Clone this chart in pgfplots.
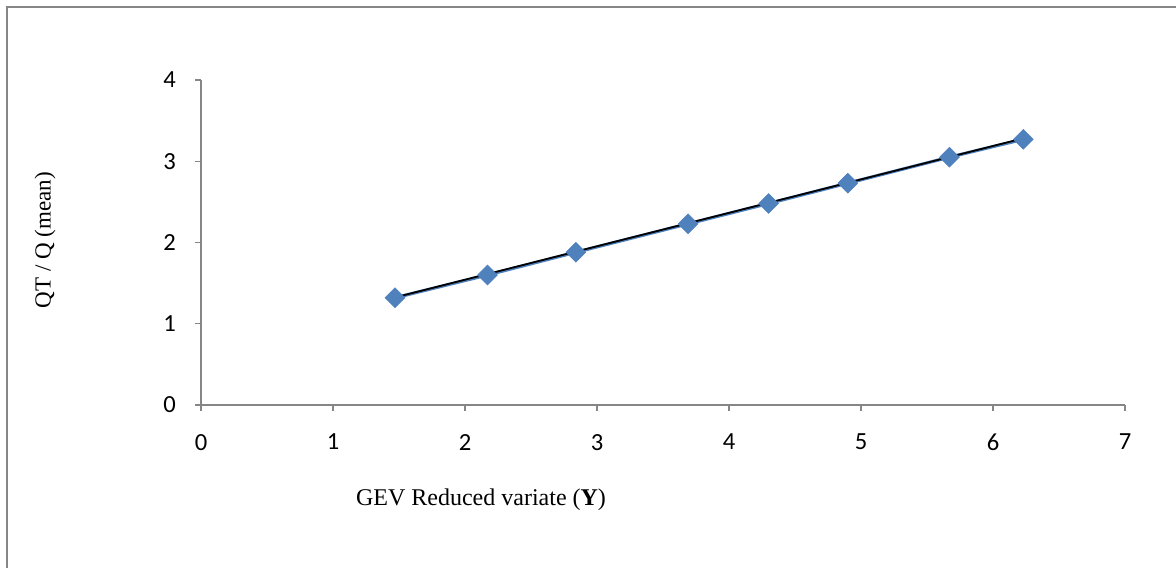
\documentclass[border=0pt]{standalone}
\usepackage{pgfplots}
\usepackage{pgfplotstable}
\usepackage{fontspec}
\pgfplotsset{compat=1.18}
\setmainfont{Liberation Serif}
\newfontfamily\calibri{Carlito}
\definecolor{axgray}{HTML}{868686}
\definecolor{exblue}{HTML}{4F81BD}
\pgfplotstableread{
x y
1.47 1.32
2.17 1.60
2.84 1.88
3.69 2.23
4.30 2.48
4.90 2.73
5.67 3.05
6.23 3.27
}\gev
\begin{document}
\begin{tikzpicture}[x=1pt,y=1pt]
\useasboundingbox (0,0) rectangle (588,283.5);
\draw[axgray, line width=1pt] (3.5,-2) -- (3.5,280) -- (590,280);
\begin{axis}[
  at={(100.5pt,81pt)}, anchor=origin,
  scale only axis, width=462pt, height=162.5pt,
  xmin=0, xmax=7, ymin=0, ymax=4,
  xtick={0,...,7}, ytick={0,...,4},
  axis x line*=bottom, axis y line*=left,
  axis line style={axgray, line width=0.6pt, -},
  tick style={axgray, line width=0.6pt},
  tick align=outside, major tick length=3pt,
  /pgf/number format/assume math mode=true,
  ticklabel style={font=\calibri\fontsize{12.3}{14}\selectfont},
  xticklabel style={yshift=-8pt},
  yticklabel style={xshift=-6pt},
  clip=false,
]
\addplot[exblue, line width=1.6pt, mark=square*, mark size=3.5pt,
  mark options={rotate=45, fill=exblue, draw=exblue, line width=0.3pt}] table[x=x,y=y] {\gev};
\addplot[black, line width=0.9pt, no marks, yshift=0.3pt] table[x=x, y={create col/linear regression={y=y}}] {\gev};
\end{axis}
\node[rotate=90, font=\fontsize{11.5}{13}\selectfont] at (22.5,163.5) {QT / Q (mean)};
\node[font=\fontsize{12}{14}\selectfont] at (240.5,33.5) {GEV Reduced variate (\textbf{Y})};
\end{tikzpicture}
\end{document}
